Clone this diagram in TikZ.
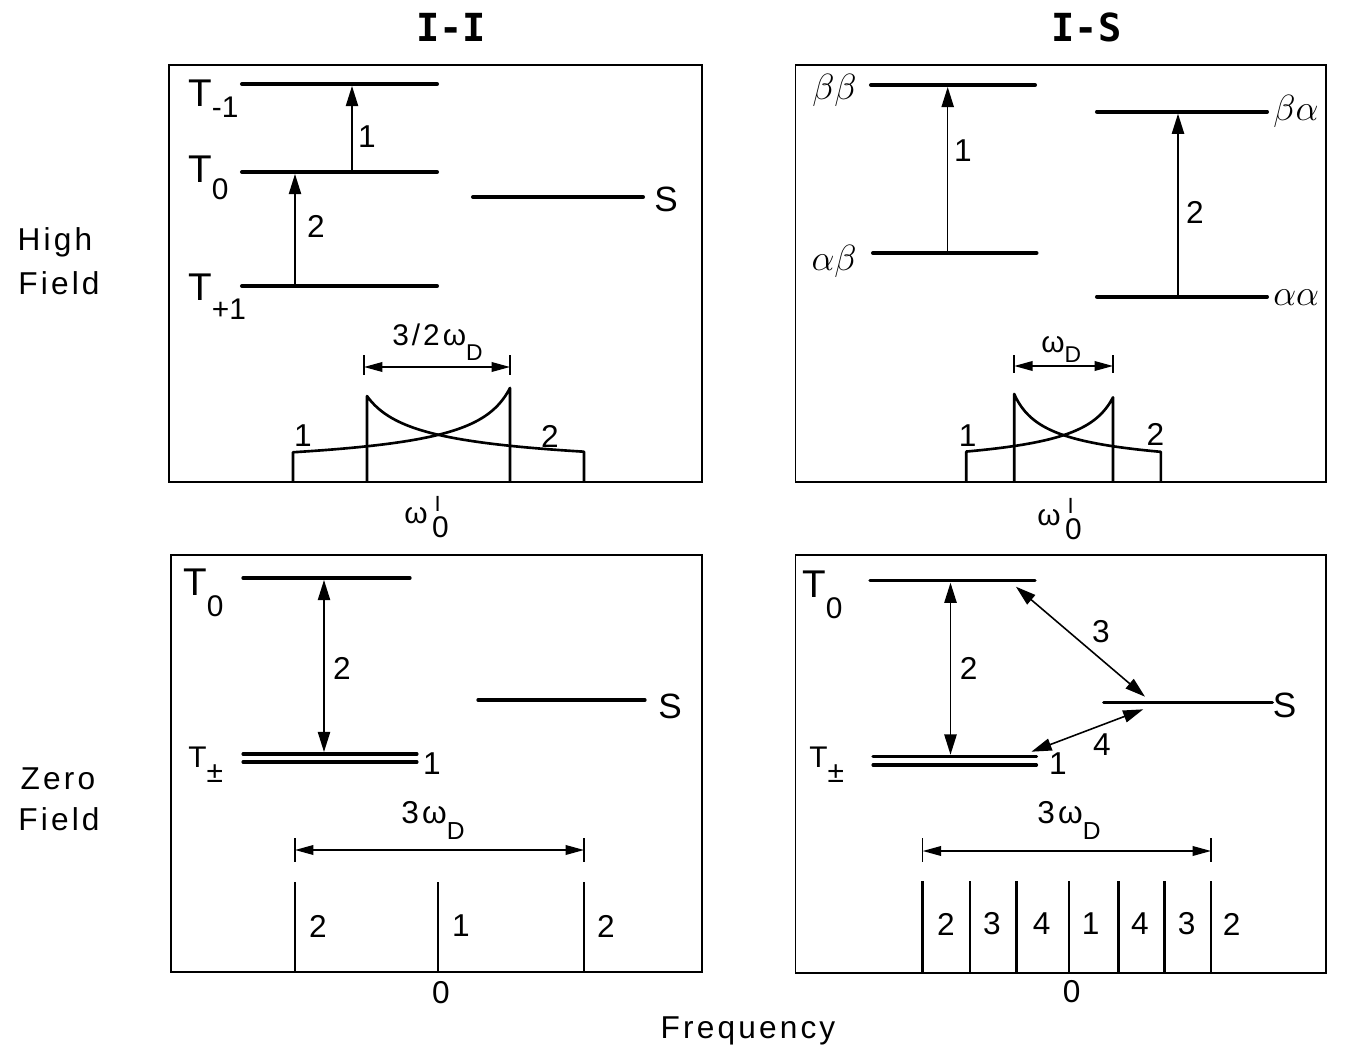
\documentclass[tikz,border=0pt]{standalone}
\usepackage{fontspec}
\setmainfont{Liberation Sans}
\newfontfamily\spaced[LetterSpace=10]{Liberation Sans}
\newfontfamily\ttl{DejaVu Sans Mono}
\usetikzlibrary{arrows.meta}
\newcommand\fs[1]{\fontsize{#1}{#1}\selectfont}
% T label: #1 T size, #2 subscript, #3 drop
\newcommand\Tlab[3]{{\fs{#1}T}\raisebox{-#3}{\fs{17}#2}}
\newcommand\wI{{\fs{17}ω}\hspace{2.5pt}\rlap{\hspace{1.5pt}\raisebox{6.5pt}{\fs{12.5}I}}\raisebox{-8pt}{\fs{17}0}}
\tikzset{
  frame/.style={line width=1.1pt},
  level/.style={line width=2.3pt, line cap=round},
  thinl/.style={line width=0.9pt},
  uparr/.style={thinl, -{Triangle[length=11.5pt,width=7pt]}},
  botharr/.style={thinl, {Triangle[length=11.5pt,width=7pt]}-{Triangle[length=11.5pt,width=7pt]}},
  dimarr/.style={thinl, {Triangle[length=10.5pt,width=5.5pt]}-{Triangle[length=10.5pt,width=5.5pt]}},
  spec/.style={line width=1.5pt, line join=round},
  stick/.style={line width=1.4pt},
  lbl/.style={inner sep=0pt, font=\fs{18}},
  tlab/.style={inner sep=0pt, anchor=base west},
  glab/.style={inner sep=0pt, font=\fs{20.5}},
  captext/.style={inner sep=0pt, anchor=base, font=\spaced\fs{18}},
}
\begin{document}
\begin{tikzpicture}[x=0.02cm,y=-0.02cm]
\useasboundingbox (0,0) rectangle (1360,1061);

% titles and captions
\node[inner sep=0pt, anchor=base, font=\ttl\bfseries\fs{22}] (tI) at (451,41.7) {I-I};
\node[inner sep=0pt, anchor=base, font=\ttl\bfseries\fs{22}] (tS) at (1086.5,41.7) {I-S};
\node[captext] (hf1) at (55,251) {High};
\node[captext] (hf2) at (59,294) {Field};
\node[captext] (zf1) at (58,789) {Zero};
\node[captext] (zf2) at (59,830) {Field};
\node[captext] (freq) at (748,1038) {Frequency};

% frames
\draw[frame] (169,65) rectangle (702,482);
\draw[frame] (795.5,65) rectangle (1326,482);
\draw[frame] (171,555) rectangle (702,972);
\draw[frame] (795.5,555) rectangle (1326,973);

%%%%%%%% Top-left: I-I high field
\coordinate (tlAa) at (242,84);  \coordinate (tlAb) at (437,84);
\coordinate (tlBa) at (242,172); \coordinate (tlBb) at (437,172);
\coordinate (tlCa) at (242,286); \coordinate (tlCb) at (437,286);
\coordinate (tlSa) at (473,197); \coordinate (tlSb) at (643,197);
\draw[level] (tlAa) -- (tlAb);
\draw[level] (tlBa) -- (tlBb);
\draw[level] (tlCa) -- (tlCb);
\draw[level] (tlSa) -- (tlSb);
\coordinate (tlu1s) at (352,172); \coordinate (tlu1e) at (352,86);
\coordinate (tlu2s) at (295,286); \coordinate (tlu2e) at (295,174);
\draw[uparr] (tlu1s) -- (tlu1e);
\draw[uparr] (tlu2s) -- (tlu2e);
\node[tlab] (tlTm) at (188,107) {\Tlab{22}{-1}{6pt}};
\node[tlab] (tlT0) at (188,183) {\Tlab{22}{0}{9.6pt}};
\node[tlab] (tlTp) at (188,300) {\Tlab{22}{+1}{11pt}};
\node[lbl] (tl1) at (367,137) {1};
\node[lbl] (tl2) at (316,226) {2};
\node[lbl, font=\fs{20}] (tlS) at (666,199) {S};
% spectrum
\draw[spec] (293,482) -- plot[domain=3:0,samples=120,variable=\t] ({510-72.33*\t},{482-54.3/sqrt(\t+0.3333)}) -- (510,482);
\draw[spec] (367,482) -- plot[domain=0:3,samples=120,variable=\t] ({367+72.33*\t},{482-56.1/sqrt(\t+0.426)}) -- (584,482);
\coordinate (tld1a) at (364,355); \coordinate (tld1b) at (364,375);
\coordinate (tld2a) at (510,355); \coordinate (tld2b) at (510,375);
\coordinate (tlda) at (364,367); \coordinate (tldb) at (510,367);
\draw[thinl] (tld1a) -- (tld1b);
\draw[thinl] (tld2a) -- (tld2b);
\draw[dimarr] (tlda) -- (tldb);
\node[inner sep=0pt, anchor=base west, font=\spaced\fs{17}] (tlw) at (392,345) {3/2ω\raisebox{-9pt}{\fs{13}D}};
\node[lbl] (tls1) at (303,436) {1};
\node[lbl] (tls2) at (550,436) {2};
\node[inner sep=0pt, anchor=base west] (tlw0) at (404,523) {\wI};

%%%%%%%% Top-right: I-S high field
\coordinate (trAa) at (871,85);    \coordinate (trAb) at (1035,85);
\coordinate (trBa) at (873,253);   \coordinate (trBb) at (1036.5,253);
\coordinate (trCa) at (1097,111.7);\coordinate (trCb) at (1267,111.7);
\coordinate (trDa) at (1097,296.7);\coordinate (trDb) at (1267,296.7);
\draw[level] (trAa) -- (trAb);
\draw[level] (trBa) -- (trBb);
\draw[level] (trCa) -- (trCb);
\draw[level] (trDa) -- (trDb);
\coordinate (tru1s) at (947.7,253); \coordinate (tru1e) at (947.7,87);
\coordinate (tru2s) at (1178,296.7); \coordinate (tru2e) at (1178,113.7);
\draw[uparr] (tru1s) -- (tru1e);
\draw[uparr] (tru2s) -- (tru2e);
\node[glab, anchor=base east] (trbb) at (857,100) {$\beta\beta$};
\node[glab, anchor=base east] (trab) at (857,270) {$\alpha\beta$};
\node[glab, anchor=base west] (trba) at (1273,121) {$\beta\alpha$};
\node[glab, anchor=base west] (traa) at (1273,305) {$\alpha\alpha$};
\node[lbl] (tr1) at (963,151) {1};
\node[lbl] (tr2) at (1195,212) {2};
% spectrum
\draw[spec] (966.3,482) -- plot[domain=3:0,samples=120,variable=\t] ({1113-48.9*\t},{482-56.5/sqrt(\t+0.445)}) -- (1113,482);
\draw[spec] (1014.2,482) -- plot[domain=0:3,samples=120,variable=\t] ({1014.2+48.9*\t},{482-55.6/sqrt(\t+0.399)}) -- (1160.9,482);
\coordinate (trd1a) at (1014.2,355); \coordinate (trd1b) at (1014.2,373);
\coordinate (trd2a) at (1113,355);   \coordinate (trd2b) at (1113,373);
\coordinate (trda) at (1014.2,366);  \coordinate (trdb) at (1113,366);
\draw[thinl] (trd1a) -- (trd1b);
\draw[thinl] (trd2a) -- (trd2b);
\draw[dimarr] (trda) -- (trdb);
\node[inner sep=0pt, anchor=base west, font=\fs{17}] (trw) at (1041,352) {ω\raisebox{-6pt}{\fs{13}D}};
\node[lbl] (trs1) at (967.7,436) {1};
\node[lbl] (trs2) at (1155.3,434) {2};
\node[inner sep=0pt, anchor=base west] (trw0) at (1037,525) {\wI};

%%%%%%%% Bottom-left: I-I zero field
\coordinate (blAa) at (243,578); \coordinate (blAb) at (410,578);
\coordinate (blBa) at (243,754); \coordinate (blBb) at (417,754);
\coordinate (blCa) at (243,762); \coordinate (blCb) at (417,762);
\coordinate (blSa) at (478,700); \coordinate (blSb) at (645,700);
\draw[level, line width=1.9pt] (blAa) -- (blAb);
\draw[level, line width=1.8pt] (blBa) -- (blBb);
\draw[level, line width=1.8pt] (blCa) -- (blCb);
\draw[level, line width=1.9pt] (blSa) -- (blSb);
\coordinate (blvs) at (324,580); \coordinate (blve) at (324,752);
\draw[botharr] (blvs) -- (blve);
\node[tlab] (blT0) at (183,595) {\Tlab{22}{0}{12pt}};
\node[tlab] (blTpm) at (188,767) {\Tlab{17}{±}{9pt}};
\node[lbl] (bl2) at (342,668) {2};
\node[lbl] (bl1) at (432,764) {1};
\node[lbl, font=\fs{20}] (blS) at (670,706) {S};
% spectrum
\coordinate (bld1a) at (295,838); \coordinate (bld1b) at (295,862);
\coordinate (bld2a) at (584,838); \coordinate (bld2b) at (584,862);
\coordinate (blda) at (295,850);  \coordinate (bldb) at (584,850);
\draw[thinl] (bld1a) -- (bld1b);
\draw[thinl] (bld2a) -- (bld2b);
\draw[dimarr] (blda) -- (bldb);
\node[inner sep=0pt, anchor=base west, font=\spaced\fs{18}] (blw) at (401,823) {3ω\raisebox{-9.6pt}{\fs{14}D}};
\foreach \xx/\nm in {295/a,438/b,584/c}{
  \coordinate (bls\nm t) at (\xx,882); \coordinate (bls\nm b) at (\xx,972);
  \draw[stick] (bls\nm t) -- (bls\nm b);
}
\node[lbl] (blp1) at (318,926) {2};
\node[lbl] (blp2) at (461,926) {1};
\node[lbl] (blp3) at (606,926) {2};
\node[lbl] (bl0) at (441,993) {0};

%%%%%%%% Bottom-right: I-S zero field
\coordinate (brAa) at (870,580.7);  \coordinate (brAb) at (1035,580.7);
\coordinate (brBa) at (873,756.7);  \coordinate (brBb) at (1036.5,756.7);
\coordinate (brCa) at (873,765);    \coordinate (brCb) at (1036.5,765);
\coordinate (brSa) at (1103.7,702.7); \coordinate (brSb) at (1272.4,702.7);
\draw[level, line width=1.9pt] (brAa) -- (brAb);
\draw[level, line width=1.8pt] (brBa) -- (brBb);
\draw[level, line width=1.8pt] (brCa) -- (brCb);
\draw[level, line width=1.9pt] (brSa) -- (brSb);
\coordinate (brvs) at (950.5,582.7); \coordinate (brve) at (950.5,754.7);
\draw[botharr] (brvs) -- (brve);
\coordinate (br3a) at (1015.9,586.7); \coordinate (br3b) at (1145,696.7);
\draw[botharr] (br3a) -- (br3b);
\coordinate (br4a) at (1031.4,751.7); \coordinate (br4b) at (1143.3,709.3);
\draw[botharr] (br4a) -- (br4b);
\node[tlab] (brT0) at (802,597) {\Tlab{22}{0}{12pt}};
\node[tlab] (brTpm) at (809,767) {\Tlab{17}{±}{9pt}};
\node[lbl] (br2) at (968.7,668) {2};
\node[lbl] (br3) at (1101,632) {3};
\node[lbl] (br4) at (1102,745) {4};
\node[lbl] (br1) at (1057.9,764) {1};
\node[lbl, font=\fs{20}] (brS) at (1284.5,705) {S};
% spectrum
\coordinate (brd1a) at (922.7,838); \coordinate (brd1b) at (922.7,862);
\coordinate (brd2a) at (1211,838);  \coordinate (brd2b) at (1211,862);
\coordinate (brda) at (922.7,851);  \coordinate (brdb) at (1211,851);
\draw[thinl] (brd1a) -- (brd1b);
\draw[thinl] (brd2a) -- (brd2b);
\draw[dimarr] (brda) -- (brdb);
\node[inner sep=0pt, anchor=base west, font=\spaced\fs{18}] (brw) at (1037,823) {3ω\raisebox{-9.6pt}{\fs{14}D}};
\foreach \xx/\nm in {922.7/a,970/b,1016.7/c,1069/d,1118.3/e,1164.3/f,1211/g}{
  \coordinate (brs\nm t) at (\xx,881); \coordinate (brs\nm b) at (\xx,973);
  \draw[stick] (brs\nm t) -- (brs\nm b);
}
\node[lbl] (brp1) at (946,924) {2};
\node[lbl] (brp2) at (992,924) {3};
\node[lbl] (brp3) at (1041.7,924) {4};
\node[lbl] (brp4) at (1090.7,924) {1};
\node[lbl] (brp5) at (1140,924) {4};
\node[lbl] (brp6) at (1186.7,924) {3};
\node[lbl] (brp7) at (1231.7,924) {2};
\node[lbl] (br0) at (1071.7,992) {0};
\end{tikzpicture}
\end{document}
